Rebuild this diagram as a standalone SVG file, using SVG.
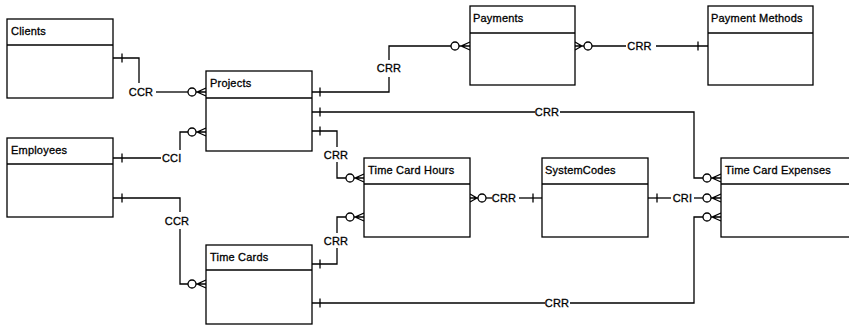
<svg xmlns="http://www.w3.org/2000/svg" width="849" height="326" viewBox="0 0 849 326">
<style>
.ent rect{fill:#fff;stroke:#000;stroke-width:1.3}
.ent line{stroke:#000;stroke-width:1.3}
text{font-family:"Liberation Sans",Arial,sans-serif;font-size:11px;font-weight:normal;fill:#000;stroke:#000;stroke-width:0.3;letter-spacing:0.2px}
.lbl{text-anchor:middle}
#connectors path,#connectors line{fill:none;stroke:#000;stroke-width:1.3}
#connectors circle{fill:#fff;stroke:#000;stroke-width:1.3}
</style>
<rect width="849" height="326" fill="#fff"/>

<g id="connectors">
  <!-- Clients - Projects -->
  <path d="M113,58 H139 V83"/>
  <line x1="122" y1="53.5" x2="122" y2="62.5"/>
  <text class="lbl" x="141" y="96">CCR</text>
  <path d="M156,92 H188"/>
  <circle cx="192" cy="92" r="4"/>
  <path d="M196,92 H197 L206,88 M197,92 H206 M197,92 L206,96"/>

  <!-- Employees - Projects -->
  <path d="M113,158 H161"/>
  <line x1="122" y1="153.5" x2="122" y2="162.5"/>
  <text x="181.5" y="162" text-anchor="end">CCI</text>
  <path d="M180,150 V132 H188"/>
  <circle cx="192" cy="132" r="4"/>
  <path d="M196,132 H197 L206,128 M197,132 H206 M197,132 L206,136"/>

  <!-- Employees - Time Cards -->
  <path d="M113,198 H180 V212"/>
  <line x1="122" y1="193.5" x2="122" y2="202.5"/>
  <text class="lbl" x="177" y="225">CCR</text>
  <path d="M180,229 V284 H188"/>
  <circle cx="192" cy="284" r="4"/>
  <path d="M196,284 H197 L206,280 M197,284 H206 M197,284 L206,288"/>

  <!-- Projects - Payments -->
  <path d="M312,92 H389 V77"/>
  <line x1="320" y1="87.5" x2="320" y2="96.5"/>
  <text class="lbl" x="389" y="72">CRR</text>
  <path d="M389,60 V46 H451"/>
  <circle cx="455" cy="46" r="4"/>
  <path d="M459,46 H461 L470,42 M461,46 H470 M461,46 L470,50"/>

  <!-- Payments - Payment Methods -->
  <path d="M584,46 H582 L575,42 M582,46 H575 M582,46 L575,50"/>
  <circle cx="588" cy="46" r="4"/>
  <path d="M592,46 H626"/>
  <text class="lbl" x="639.5" y="50">CRR</text>
  <path d="M656,46 H708"/>
  <line x1="698" y1="41.5" x2="698" y2="50.5"/>

  <!-- Projects - Time Card Expenses -->
  <path d="M312,112 H535"/>
  <line x1="320" y1="107.5" x2="320" y2="116.5"/>
  <text class="lbl" x="547" y="116">CRR</text>
  <path d="M560,112 H694 V178 H703"/>
  <circle cx="707" cy="178" r="4"/>
  <path d="M711,178 H712 L721,174 M712,178 H721 M712,178 L721,182"/>

  <!-- Projects - Time Card Hours -->
  <path d="M312,131 H337 V147"/>
  <line x1="320" y1="126.5" x2="320" y2="135.5"/>
  <text class="lbl" x="336" y="159">CRR</text>
  <path d="M337,162 V178 H346"/>
  <circle cx="350" cy="178" r="4"/>
  <path d="M354,178 H355 L364,174 M355,178 H364 M355,178 L364,182"/>

  <!-- Time Cards - Time Card Hours -->
  <path d="M312,264 H337 V248"/>
  <line x1="320" y1="259.5" x2="320" y2="268.5"/>
  <text class="lbl" x="336" y="245">CRR</text>
  <path d="M337,233 V217 H346"/>
  <circle cx="350" cy="217" r="4"/>
  <path d="M354,217 H355 L364,213 M355,217 H364 M355,217 L364,221"/>

  <!-- Time Cards - Time Card Expenses -->
  <path d="M312,303 H545"/>
  <line x1="320" y1="298.5" x2="320" y2="307.5"/>
  <text class="lbl" x="557" y="307">CRR</text>
  <path d="M570,303 H694 V217 H703"/>
  <circle cx="707" cy="217" r="4"/>
  <path d="M711,217 H712 L721,213 M712,217 H721 M712,217 L721,221"/>

  <!-- Time Card Hours - SystemCodes -->
  <path d="M478,198 H477 L470,194 M477,198 H470 M477,198 L470,202"/>
  <circle cx="482" cy="198" r="4"/>
  <path d="M486,198 H492"/>
  <text class="lbl" x="504" y="202">CRR</text>
  <path d="M519,198 H542"/>
  <line x1="533" y1="193.5" x2="533" y2="202.5"/>

  <!-- SystemCodes - Time Card Expenses -->
  <path d="M648,198 H671"/>
  <line x1="657" y1="193.5" x2="657" y2="202.5"/>
  <text class="lbl" x="682.5" y="202">CRI</text>
  <path d="M694,198 H703"/>
  <circle cx="707" cy="198" r="4"/>
  <path d="M711,198 H712 L721,194 M712,198 H721 M712,198 L721,202"/>
</g>

<g id="clients" class="ent">
  <rect x="7" y="19" width="106" height="79"/>
  <line x1="7" y1="45" x2="113" y2="45"/>
  <text x="11" y="35">Clients</text>
</g>
<g id="projects" class="ent">
  <rect x="206" y="71" width="106" height="80"/>
  <line x1="206" y1="98" x2="312" y2="98"/>
  <text x="210" y="87">Projects</text>
</g>
<g id="employees" class="ent">
  <rect x="7" y="138" width="106" height="79"/>
  <line x1="7" y1="164" x2="113" y2="164"/>
  <text x="11" y="154">Employees</text>
</g>
<g id="time-cards" class="ent">
  <rect x="206" y="245" width="106" height="79"/>
  <line x1="206" y1="270" x2="312" y2="270"/>
  <text x="210" y="261">Time Cards</text>
</g>
<g id="payments" class="ent">
  <rect x="470" y="6" width="105" height="79"/>
  <line x1="470" y1="33" x2="575" y2="33"/>
  <text x="473" y="22">Payments</text>
</g>
<g id="payment-methods" class="ent">
  <rect x="708" y="6" width="105" height="79"/>
  <line x1="708" y1="33" x2="813" y2="33"/>
  <text x="711" y="22">Payment Methods</text>
</g>
<g id="time-card-hours" class="ent">
  <rect x="364" y="158" width="106" height="79"/>
  <line x1="364" y1="184" x2="470" y2="184"/>
  <text x="368" y="174">Time Card Hours</text>
</g>
<g id="system-codes" class="ent">
  <rect x="542" y="158" width="106" height="79"/>
  <line x1="542" y1="184" x2="648" y2="184"/>
  <text x="545" y="174">SystemCodes</text>
</g>
<g id="time-card-expenses" class="ent">
  <rect x="721" y="158" width="140" height="79"/>
  <line x1="721" y1="184" x2="861" y2="184"/>
  <text x="725" y="174">Time Card Expenses</text>
</g>
</svg>
